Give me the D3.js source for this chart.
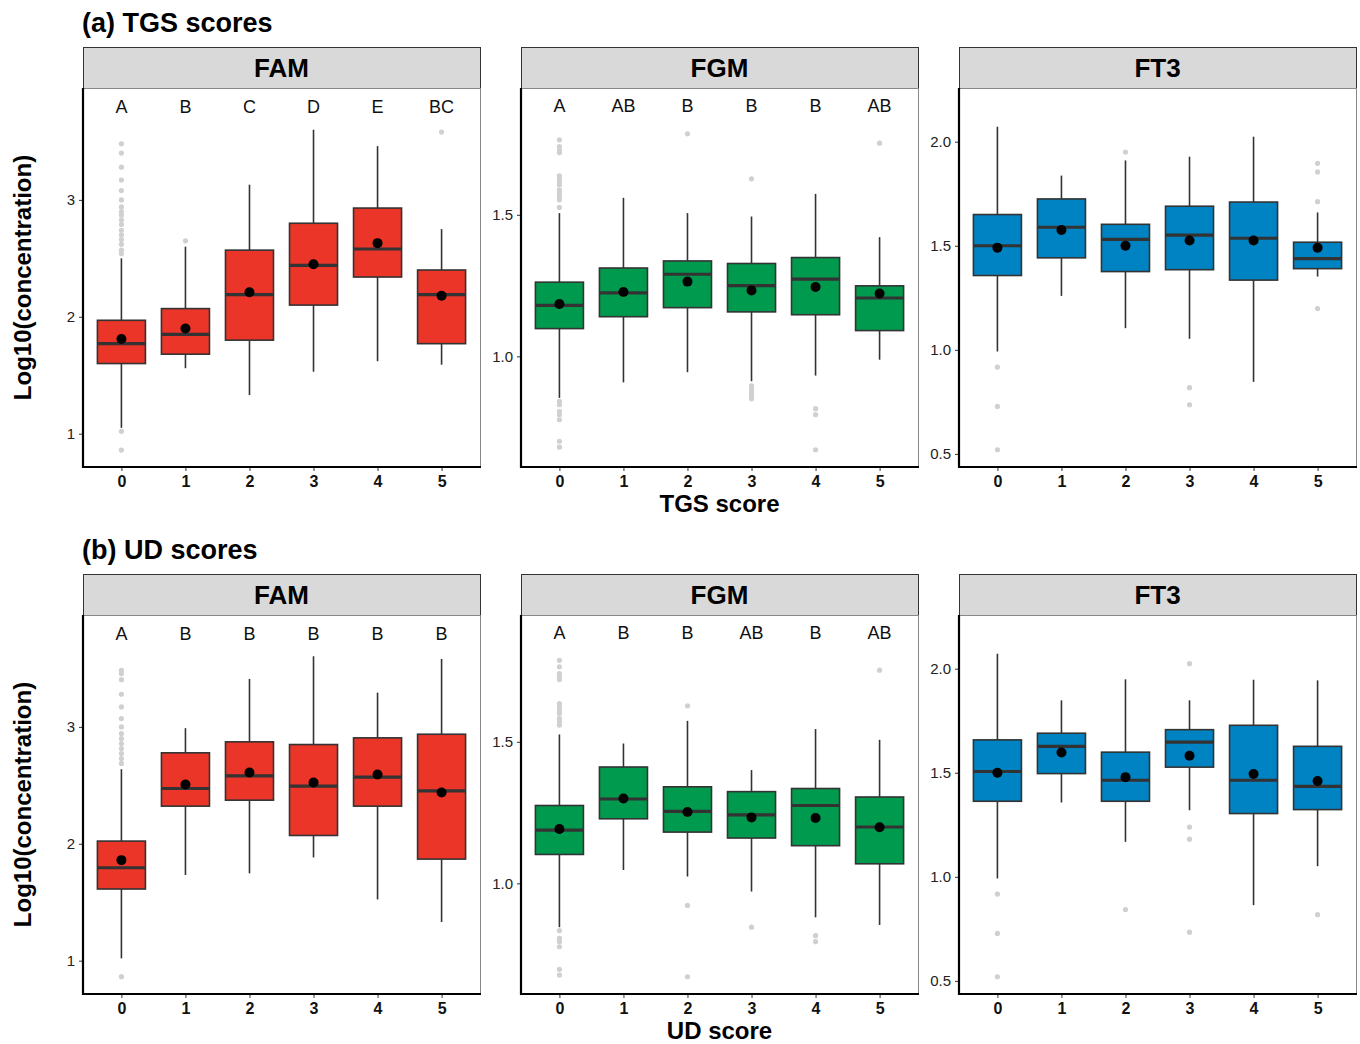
<!DOCTYPE html>
<html>
<head>
<meta charset="utf-8">
<script src="https://cdn.jsdelivr.net/npm/d3@7"></script>
<style>
  body { margin: 0; background: #fff; }
  text { font-family: "Liberation Sans", Arial, Helvetica, sans-serif; }
</style>
</head>
<body>
<div id="vis-container"></div>
<script>
// score categories on the x axis
const scores = [0, 1, 2, 3, 4, 5];

// box stats per score: [whisker low, q1, median, q3, whisker high, mean]
const tgsFAM = [
  [1.05, 1.60, 1.77, 1.97, 2.50, 1.81],
  [1.56, 1.68, 1.85, 2.07, 2.60, 1.90],
  [1.33, 1.80, 2.19, 2.57, 3.13, 2.21],
  [1.53, 2.10, 2.44, 2.80, 3.60, 2.45],
  [1.62, 2.34, 2.58, 2.93, 3.46, 2.63],
  [1.59, 1.77, 2.19, 2.40, 2.75, 2.18]
];
const tgsFAMOut = [
  [3.48, 3.40, 3.28, 3.17, 3.08, 3.00, 2.94, 2.90, 2.87, 2.83, 2.79, 2.74, 2.70, 2.66, 2.62, 2.57, 2.54, 1.02, 0.86],
  [2.65], [], [], [], [3.58]
];
const tgsFAMLetters = ['A', 'B', 'C', 'D', 'E', 'BC'];

const tgsFGM = [
  [0.853, 1.098, 1.180, 1.262, 1.506, 1.185],
  [0.908, 1.140, 1.224, 1.312, 1.560, 1.227],
  [0.944, 1.172, 1.290, 1.337, 1.506, 1.264],
  [0.912, 1.157, 1.250, 1.328, 1.494, 1.233],
  [0.932, 1.147, 1.273, 1.349, 1.574, 1.245],
  [0.988, 1.091, 1.206, 1.249, 1.421, 1.222]
];
const tgsFGMOut = [
  [1.765, 1.741, 1.729, 1.720, 1.638, 1.630, 1.618, 1.606, 1.588, 1.577, 1.565, 1.553, 1.526, 0.841, 0.829, 0.806, 0.794, 0.776, 0.700, 0.679],
  [], [1.786], [1.627, 0.896, 0.885, 0.873, 0.861, 0.850], [0.815, 0.794, 0.670], [1.753]
];
const tgsFGMLetters = ['A', 'AB', 'B', 'B', 'B', 'AB'];

const tgsFT3 = [
  [0.992, 1.357, 1.500, 1.650, 2.072, 1.491],
  [1.259, 1.442, 1.589, 1.725, 1.837, 1.576],
  [1.104, 1.376, 1.531, 1.603, 1.910, 1.500],
  [1.053, 1.385, 1.551, 1.690, 1.928, 1.525],
  [0.846, 1.335, 1.536, 1.710, 2.024, 1.525],
  [1.352, 1.390, 1.438, 1.517, 1.660, 1.491]
];
const tgsFT3Out = [[0.917, 0.728, 0.520], [], [1.950], [0.818, 0.736], [], [1.896, 1.855, 1.712, 1.198]];

const udFAM = [
  [1.020, 1.613, 1.795, 2.023, 2.638, 1.860],
  [1.733, 2.322, 2.473, 2.778, 2.989, 2.507],
  [1.747, 2.373, 2.581, 2.872, 3.410, 2.610],
  [1.883, 2.071, 2.493, 2.849, 3.604, 2.524],
  [1.524, 2.322, 2.570, 2.906, 3.293, 2.593],
  [1.331, 1.869, 2.453, 2.937, 3.581, 2.439]
];
const udFAMOut = [
  [3.484, 3.456, 3.404, 3.279, 3.171, 3.071, 3.000, 2.943, 2.900, 2.857, 2.815, 2.772, 2.729, 2.687, 0.863],
  [], [], [], [], []
];
const udFAMLetters = ['A', 'B', 'B', 'B', 'B', 'B'];

const udFGM = [
  [0.845, 1.102, 1.188, 1.275, 1.526, 1.192],
  [1.047, 1.228, 1.298, 1.411, 1.494, 1.300],
  [1.024, 1.181, 1.254, 1.341, 1.574, 1.252],
  [0.971, 1.160, 1.242, 1.324, 1.400, 1.233],
  [0.880, 1.133, 1.275, 1.335, 1.545, 1.231],
  [0.853, 1.069, 1.199, 1.305, 1.507, 1.198]
];
const udFGMOut = [
  [1.788, 1.765, 1.741, 1.729, 1.720, 1.635, 1.624, 1.612, 1.600, 1.582, 1.571, 1.559, 0.833, 0.806, 0.794, 0.776, 0.696, 0.676],
  [], [1.627, 0.922, 0.670], [0.845], [0.815, 0.794], [1.753]
];
const udFGMLetters = ['A', 'B', 'B', 'AB', 'B', 'AB'];

const udFT3 = [
  [0.992, 1.363, 1.506, 1.658, 2.072, 1.500],
  [1.357, 1.496, 1.627, 1.690, 1.848, 1.597],
  [1.168, 1.363, 1.464, 1.599, 1.949, 1.479],
  [1.320, 1.527, 1.647, 1.707, 1.848, 1.582],
  [0.864, 1.304, 1.464, 1.728, 1.947, 1.494],
  [1.051, 1.323, 1.435, 1.627, 1.944, 1.460]
];
const udFT3Out = [[0.917, 0.728, 0.520], [], [0.843], [2.024, 1.239, 1.181, 0.734], [], [0.818]];

// per-analyte y settings
const yDomains = { FAM: [0.715, 3.957], FGM: [0.609, 1.948], FT3: [0.437, 2.258] };
const yTicks = { FAM: [1, 2, 3], FGM: [1.0, 1.5], FT3: [0.5, 1.0, 1.5, 2.0] };
const letterY = { FAM: 3.80, FGM: 1.885 };
const fills = { FAM: '#ea3528', FGM: '#009a4f', FT3: '#0083c2' };

const rows = [
  { title: '(a) TGS scores', xlab: 'TGS score', panels: [
    { name: 'FAM', stats: tgsFAM, out: tgsFAMOut, letters: tgsFAMLetters },
    { name: 'FGM', stats: tgsFGM, out: tgsFGMOut, letters: tgsFGMLetters },
    { name: 'FT3', stats: tgsFT3, out: tgsFT3Out, letters: null }
  ]},
  { title: '(b) UD scores', xlab: 'UD score', panels: [
    { name: 'FAM', stats: udFAM, out: udFAMOut, letters: udFAMLetters },
    { name: 'FGM', stats: udFGM, out: udFGMOut, letters: udFGMLetters },
    { name: 'FT3', stats: udFT3, out: udFT3Out, letters: null }
  ]}
];

const width = 1360, height = 1044;
const colX = [83, 521, 959];
const rowTop = [47, 574];
const panelW = 397, stripH = 41, plotH = 379;

const svg = d3.select('#vis-container').append('svg')
  .attr('width', width).attr('height', height);

const xScale = d3.scalePoint().domain(scores).range([0, panelW]).padding(0.6);
const boxW = xScale.step() * 0.75;

rows.forEach(function (row, ri) {
  const top = rowTop[ri];

  svg.append('text')
    .attr('x', 82).attr('y', top - 15)
    .attr('font-size', 27).attr('font-weight', 'bold')
    .text(row.title);

  // y axis title
  svg.append('text')
    .attr('transform', `translate(31 ${top + stripH + plotH / 2}) rotate(-90)`)
    .attr('text-anchor', 'middle')
    .attr('font-size', 24).attr('font-weight', 'bold')
    .text('Log10(concentration)');

  // x axis title under middle panel
  svg.append('text')
    .attr('x', colX[1] + panelW / 2).attr('y', top + stripH + plotH + 45)
    .attr('text-anchor', 'middle')
    .attr('font-size', 24).attr('font-weight', 'bold')
    .text(row.xlab);

  row.panels.forEach(function (p, ci) {
    const g = svg.append('g')
      .attr('transform', `translate(${colX[ci]} ${top})`);

    // strip
    g.append('rect')
      .attr('x', 0.5).attr('y', 0.5)
      .attr('width', panelW).attr('height', stripH)
      .attr('fill', '#d9d9d9').attr('stroke', '#333').attr('stroke-width', 1);
    g.append('text')
      .attr('x', panelW / 2).attr('y', stripH / 2 + 9.5)
      .attr('text-anchor', 'middle')
      .attr('font-size', 26).attr('font-weight', 'bold')
      .text(p.name);

    const pg = g.append('g').attr('transform', `translate(0 ${stripH})`);
    const yScale = d3.scaleLinear().domain(yDomains[p.name]).range([plotH, 0]);

    // panel border
    pg.append('rect')
      .attr('x', 0.5).attr('y', 0.5)
      .attr('width', panelW).attr('height', plotH)
      .attr('fill', 'none').attr('stroke', '#888').attr('stroke-width', 1);

    // axes
    const fmt = p.name === 'FAM' ? d3.format('d') : d3.format('.1f');
    const yAxisG = pg.append('g').call(
      d3.axisLeft(yScale).tickValues(yTicks[p.name]).tickFormat(fmt).tickSize(4).tickPadding(4));
    const xAxisG = pg.append('g').attr('transform', `translate(0 ${plotH})`).call(
      d3.axisBottom(xScale).tickSize(4).tickPadding(5));
    [yAxisG, xAxisG].forEach(function (a) {
      a.select('.domain').remove();
      a.selectAll('line').attr('stroke', '#333');
    });
    yAxisG.selectAll('text').attr('font-size', 15).attr('fill', '#222')
      .attr('font-family', '"Liberation Sans", Arial, sans-serif');
    xAxisG.selectAll('text').attr('font-size', 16).attr('font-weight', 'bold').attr('fill', '#111')
      .attr('font-family', '"Liberation Sans", Arial, sans-serif');

    pg.append('line')
      .attr('x1', 0).attr('x2', 0).attr('y1', 0).attr('y2', plotH + 1)
      .attr('stroke', '#000').attr('stroke-width', 2.2);
    pg.append('line')
      .attr('x1', -1).attr('x2', panelW + 1).attr('y1', plotH).attr('y2', plotH)
      .attr('stroke', '#000').attr('stroke-width', 2.2);

    const groups = pg.selectAll('g.box')
      .data(p.stats)
      .join('g')
      .attr('class', 'box')
      .attr('transform', (d, i) => `translate(${xScale(scores[i])} 0)`);

    // whiskers
    groups.append('line')
      .attr('y1', d => yScale(d[0])).attr('y2', d => yScale(d[1]))
      .attr('stroke', '#333').attr('stroke-width', 1.6);
    groups.append('line')
      .attr('y1', d => yScale(d[3])).attr('y2', d => yScale(d[4]))
      .attr('stroke', '#333').attr('stroke-width', 1.6);

    // boxes
    groups.append('rect')
      .attr('x', -boxW / 2).attr('width', boxW)
      .attr('y', d => yScale(d[3]))
      .attr('height', d => yScale(d[1]) - yScale(d[3]))
      .attr('fill', fills[p.name]).attr('stroke', '#333').attr('stroke-width', 1.6);

    // medians
    groups.append('line')
      .attr('x1', -boxW / 2).attr('x2', boxW / 2)
      .attr('y1', d => yScale(d[2])).attr('y2', d => yScale(d[2]))
      .attr('stroke', '#333').attr('stroke-width', 3.2);

    // outliers
    groups.each(function (d, i) {
      d3.select(this).selectAll('circle.out')
        .data(p.out[i])
        .join('circle')
        .attr('class', 'out')
        .attr('cy', v => yScale(v))
        .attr('r', 2.6)
        .attr('fill', '#d0d0d0');
    });

    // means
    groups.append('circle')
      .attr('cy', d => yScale(d[5]))
      .attr('r', 5)
      .attr('fill', '#000');

    // significance letters
    if (p.letters) {
      pg.selectAll('text.letter')
        .data(p.letters)
        .join('text')
        .attr('class', 'letter')
        .attr('x', (d, i) => xScale(scores[i]))
        .attr('y', yScale(letterY[p.name]) + 6.5)
        .attr('text-anchor', 'middle')
        .attr('font-size', 18)
        .attr('fill', '#111')
        .text(d => d);
    }
  });
});
</script>
</body>
</html>
